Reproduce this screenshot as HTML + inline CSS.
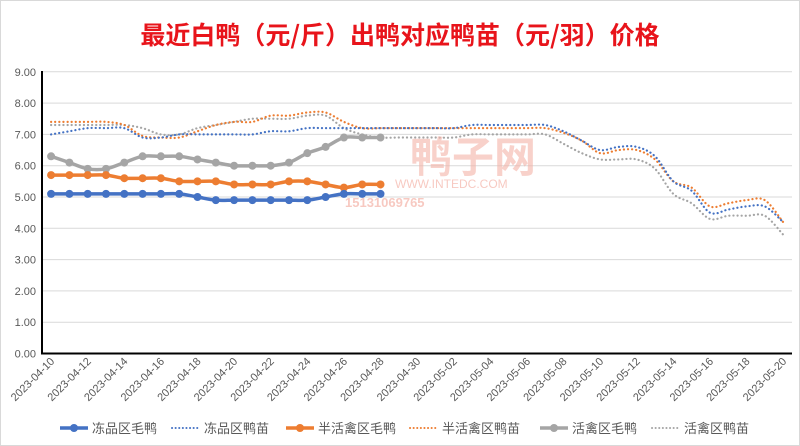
<!DOCTYPE html>
<html><head><meta charset="utf-8"><style>
body{margin:0;background:#fff;}
svg{display:block;font-family:"Liberation Sans","Noto Sans CJK SC",sans-serif;}
</style></head><body>
<svg id="s" width="800" height="446" viewBox="0 0 800 446">
<rect x="0.5" y="0.5" width="799" height="445" fill="#fff" stroke="#d9d9d9"/>
<text x="400" y="44" text-anchor="middle" font-size="25" font-weight="bold" fill="#e8141b" font-family="'Noto Sans CJK SC',sans-serif">最近白鸭（元/斤）出鸭对应鸭苗（元/羽）价格</text>
<g id="g"></g>
</svg>
<script>
const g=document.getElementById('g');let h='';
const Y=v=>353.5-v*31.3, X=i=>51.1+18.3*i;
for(let v=0;v<=9;v++){let y=Y(v);h+=`<line x1="42" x2="792" y1="${y}" y2="${y}" stroke="#d9d9d9"/>`;
h+=`<text x="36" y="${y+4}" text-anchor="end" font-size="11" fill="#595959">${v.toFixed(2)}</text>`;}
for(let i=0;i<41;i+=2){let d=new Date(2023,3,10+i);let s=`2023-${String(d.getMonth()+1).padStart(2,'0')}-${String(d.getDate()).padStart(2,'0')}`;
h+=`<text transform="translate(${X(i)+4},362) rotate(-45)" text-anchor="end" font-size="11" fill="#595959">${s}</text>`;}
h+=`<line x1="42" x2="42" y1="71" y2="354" stroke="#000" stroke-width="2"/><line x1="41" x2="792" y1="353.5" y2="353.5" stroke="#000" stroke-width="2"/>`;
function path(a){let p=a.map((v,i)=>[X(i),Y(v)]);let d=`M${p[0]}`;
for(let i=0;i<p.length-1;i++){let p0=p[i-1]||p[i],p1=p[i],p2=p[i+1],p3=p[i+2]||p2;
d+=` C${p1[0]+(p2[0]-p0[0])/6},${p1[1]+(p2[1]-p0[1])/6} ${p2[0]-(p3[0]-p1[0])/6},${p2[1]-(p3[1]-p1[1])/6} ${p2}`;}return d;}
const bd=[7.0,7.1,7.2,7.2,7.2,6.9,6.9,7.0,7.0,7.0,7.0,7.0,7.1,7.1,7.2,7.2,7.2,7.2,7.2,7.2,7.2,7.2,7.2,7.3,7.3,7.3,7.3,7.3,7.1,6.8,6.5,6.6,6.6,6.3,5.5,5.2,4.5,4.6,4.7,4.7,4.2];
const od=[7.4,7.4,7.4,7.4,7.3,6.95,6.9,6.9,7.1,7.3,7.4,7.4,7.6,7.6,7.7,7.7,7.4,7.2,7.2,7.2,7.2,7.2,7.2,7.2,7.2,7.2,7.2,7.2,7.05,6.8,6.4,6.5,6.5,6.2,5.5,5.3,4.7,4.8,4.9,4.9,4.2];
const gd=[7.3,7.3,7.3,7.3,7.3,7.2,7.0,7.0,7.2,7.3,7.4,7.5,7.5,7.5,7.6,7.6,7.2,7.0,6.9,6.9,6.9,6.9,6.9,7.0,7.0,7.0,7.0,7.0,6.7,6.4,6.2,6.2,6.2,5.9,5.1,4.8,4.3,4.4,4.4,4.4,3.8];
const bs=[5.1,5.1,5.1,5.1,5.1,5.1,5.1,5.1,5.0,4.9,4.9,4.9,4.9,4.9,4.9,5.0,5.1,5.1,5.1];
const os=[5.7,5.7,5.7,5.7,5.6,5.6,5.6,5.5,5.5,5.5,5.4,5.4,5.4,5.5,5.5,5.4,5.3,5.4,5.4];
const gs=[6.3,6.1,5.9,5.9,6.1,6.3,6.3,6.3,6.2,6.1,6.0,6.0,6.0,6.1,6.4,6.6,6.9,6.9,6.9];
[[gd,'#a5a5a5'],[od,'#ed7d31'],[bd,'#4472c4']].forEach(([a,c])=>{h+=`<path d="${path(a)}" fill="none" stroke="${c}" stroke-width="2.2" stroke-dasharray="0.1 4" stroke-linecap="round"/>`;});
[[gs,'#a5a5a5'],[os,'#ed7d31'],[bs,'#4472c4']].forEach(([a,c])=>{h+=`<path d="${path(a)}" fill="none" stroke="${c}" stroke-width="3.5" stroke-linecap="round"/>`;
a.forEach((v,i)=>h+=`<circle cx="${X(i)}" cy="${Y(v)}" r="4" fill="${c}"/>`);});
h+=`<text x="410" y="172" font-size="42" font-weight="bold" fill="#f4b3a8" opacity="0.6" font-family="'Noto Sans CJK SC',sans-serif">鸭子网</text>`;
h+=`<text x="395" y="188" font-size="12" fill="#f4b3a8" opacity="0.7">WWW.INTEDC.COM</text>`;
h+=`<text x="345" y="207" font-size="13" font-weight="bold" fill="#f4b3a8" opacity="0.7">15131069765</text>`;
const L=[['冻品区毛鸭','#4472c4',0,60],['冻品区鸭苗','#4472c4',1,172],['半活禽区毛鸭','#ed7d31',0,286],['半活禽区鸭苗','#ed7d31',1,410],['活禽区毛鸭','#a5a5a5',0,540],['活禽区鸭苗','#a5a5a5',1,652]];
L.forEach(([t,c,d,x])=>{let y=428;
if(d)h+=`<line x1="${x}" x2="${x+28}" y1="${y}" y2="${y}" stroke="${c}" stroke-width="2" stroke-dasharray="0.1 3.5" stroke-linecap="round"/>`;
else h+=`<line x1="${x}" x2="${x+28}" y1="${y}" y2="${y}" stroke="${c}" stroke-width="3.5"/><circle cx="${x+14}" cy="${y}" r="4" fill="${c}"/>`;
h+=`<text x="${x+32}" y="${y+5}" font-size="13" fill="#595959" font-family="'Noto Sans CJK SC',sans-serif">${t}</text>`;});
g.innerHTML=h;
</script>
</body></html>
